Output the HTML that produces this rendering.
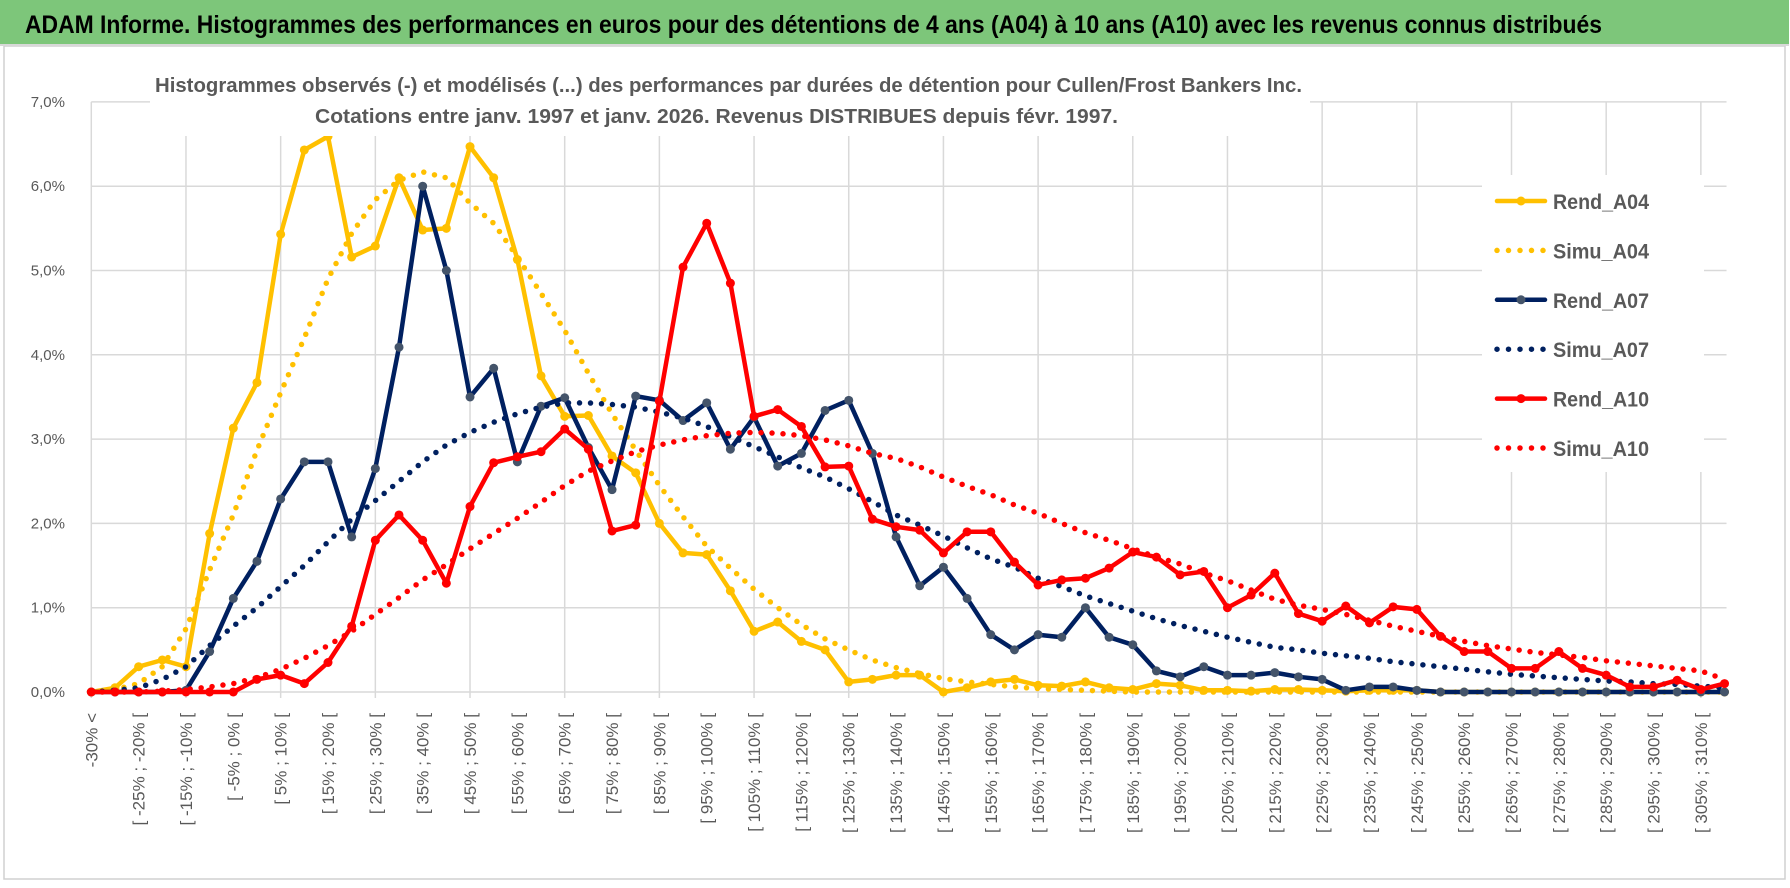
<!DOCTYPE html>
<html><head><meta charset="utf-8"><style>
html,body{margin:0;padding:0;background:#fff;}
svg{display:block;font-family:"Liberation Sans",sans-serif;}
</style></head><body>
<svg id="chart" width="1790" height="888" viewBox="0 0 1790 888" xmlns="http://www.w3.org/2000/svg">
  <rect x="0" y="0" width="1789" height="44" fill="#7DC67A"/>
  <rect x="4" y="46" width="1781" height="833" fill="#fff" stroke="#d0d0d0" stroke-width="1.5"/>
  <line x1="0" y1="45" x2="1789" y2="45" stroke="#d8d8d8" stroke-width="2"/>
  <text x="25" y="33" font-size="25" font-weight="bold" fill="#000" textLength="1577" lengthAdjust="spacingAndGlyphs">ADAM Informe. Histogrammes des performances en euros pour des détentions de 4 ans (A04) à 10 ans (A10) avec les revenus connus distribués</text>
  <g id="grid"></g>
  <g id="series"></g>
  <rect x="150" y="70" width="1160" height="66" fill="#fff"/>
  <text x="155" y="92" font-size="20" font-weight="bold" fill="#595959" textLength="1147" lengthAdjust="spacingAndGlyphs">Histogrammes observés (-) et modélisés (...) des performances par durées de détention pour Cullen/Frost Bankers Inc.</text>
  <text x="315" y="123" font-size="20" font-weight="bold" fill="#595959" textLength="803" lengthAdjust="spacingAndGlyphs">Cotations entre janv. 1997 et janv. 2026. Revenus DISTRIBUES depuis févr. 1997.</text>
  <g id="yaxis"></g>
  <g id="xaxis"></g>
  <g id="legend"></g>
</svg>
<script>
const categories = [];
categories.push("-30% <");
for (let k = 1; k < 70; k++) { const a = -30 + 5 * (k - 1); categories.push("[ " + a + "% ; " + (a + 5) + "% ["); }
const yTicks = [0, 1, 2, 3, 4, 5, 6, 7];
const yTickLabels = ["0,0%", "1,0%", "2,0%", "3,0%", "4,0%", "5,0%", "6,0%", "7,0%"];
const rendA04 = [0,0.05,0.3,0.38,0.3,1.88,3.13,3.67,5.43,6.43,6.59,5.16,5.29,6.1,5.48,5.5,6.47,6.1,5.13,3.75,3.27,3.28,2.8,2.6,2.0,1.65,1.63,1.2,0.72,0.83,0.6,0.5,0.12,0.15,0.2,0.2,0,0.05,0.12,0.15,0.08,0.07,0.12,0.05,0.03,0.1,0.08,0.02,0.02,0.01,0.03,0.03,0.02,0.01,0.02,0.02,0.02,0,0,0,0,0,0,0,0,0,0,0,0,0];
const simuA04 = [0,0.03,0.1,0.3,0.75,1.45,2.1,2.87,3.55,4.2,4.9,5.44,5.84,6.07,6.17,6.1,5.8,5.56,5.16,4.73,4.29,3.78,3.3,2.87,2.45,2.08,1.73,1.47,1.22,1.0,0.8,0.63,0.5,0.38,0.29,0.22,0.16,0.12,0.09,0.06,0.04,0.03,0.02,0.01,0,0,0,0,0,0,0,0,0,0,0,0,0,0,0,0,0,0,0,0,0,0,0,0,0,0];
const rendA07 = [0,0,0,0,0.02,0.48,1.11,1.55,2.29,2.73,2.73,1.84,2.65,4.09,6.0,5.0,3.5,3.84,2.73,3.39,3.49,2.9,2.4,3.51,3.46,3.22,3.43,2.88,3.26,2.68,2.83,3.34,3.46,2.83,1.84,1.26,1.48,1.11,0.68,0.5,0.68,0.65,1.0,0.65,0.56,0.25,0.18,0.3,0.2,0.2,0.23,0.18,0.15,0.02,0.06,0.06,0.02,0,0,0,0,0,0,0,0,0,0,0,0,0];
const simuA07 = [0,0.02,0.05,0.15,0.3,0.55,0.78,1.0,1.25,1.5,1.78,2.05,2.27,2.5,2.73,2.93,3.08,3.2,3.3,3.38,3.43,3.43,3.41,3.38,3.32,3.25,3.15,3.03,2.91,2.79,2.66,2.55,2.41,2.26,2.1,1.98,1.85,1.71,1.58,1.48,1.35,1.25,1.14,1.05,0.96,0.87,0.79,0.72,0.65,0.59,0.53,0.5,0.46,0.43,0.4,0.36,0.33,0.3,0.27,0.24,0.21,0.19,0.17,0.15,0.13,0.12,0.1,0.09,0.07,0.05];
const rendA10 = [0,0,0,0,0,0,0,0.15,0.2,0.1,0.35,0.78,1.8,2.1,1.8,1.29,2.2,2.72,2.79,2.85,3.12,2.88,1.91,1.98,3.45,5.04,5.56,4.85,3.27,3.35,3.15,2.67,2.68,2.05,1.96,1.92,1.65,1.9,1.9,1.54,1.27,1.33,1.35,1.47,1.66,1.6,1.39,1.43,1.0,1.15,1.41,0.93,0.84,1.02,0.82,1.01,0.98,0.66,0.48,0.48,0.28,0.28,0.48,0.28,0.2,0.06,0.06,0.14,0.03,0.1];
const simuA10 = [0,0,0,0.01,0.03,0.06,0.1,0.17,0.27,0.4,0.55,0.72,0.92,1.12,1.33,1.51,1.7,1.88,2.06,2.25,2.45,2.62,2.74,2.85,2.93,2.99,3.04,3.07,3.08,3.07,3.04,2.99,2.92,2.83,2.77,2.67,2.55,2.44,2.34,2.22,2.12,2.0,1.89,1.8,1.7,1.6,1.52,1.41,1.32,1.21,1.1,1.03,0.98,0.92,0.85,0.78,0.72,0.66,0.6,0.55,0.51,0.47,0.44,0.41,0.37,0.34,0.31,0.28,0.25,0.15];
const seriesNames = ["Rend_A04", "Simu_A04", "Rend_A07", "Simu_A07", "Rend_A10", "Simu_A10"];

const NS = "http://www.w3.org/2000/svg";
const X0 = 91.3, DX = 23.67, Y0 = 692, DY = 84.3;
function xScale(i) { return X0 + i * DX; }
function yScale(v) { return Y0 - v * DY; }
function mk(tag, attrs, parent) { const e = document.createElementNS(NS, tag); for (const k in attrs) e.setAttribute(k, attrs[k]); parent.appendChild(e); return e; }

const grid = document.getElementById('grid');
const xEnd = xScale(categories.length - 1) + 2;
yTicks.forEach(function (t) {
  const l = mk('line', {x1: X0, x2: xEnd, y1: yScale(t), y2: yScale(t), stroke: '#d9d9d9', 'stroke-width': 1.5}, grid);
  
  
});
for (let i = 0; i < categories.length; i += 4) {
  const l = mk('line', {x1: xScale(i), x2: xScale(i), y1: yScale(7), y2: Y0 + 6, stroke: '#d9d9d9', 'stroke-width': 1.5}, grid);
  
  
}

const yaxis = document.getElementById('yaxis');
yTicks.forEach(function (t, k) {
  const tx = mk('text', {x: 65, y: yScale(t) + 5, 'font-size': 15, fill: '#595959', 'text-anchor': 'end'}, yaxis);
  tx.textContent = yTickLabels[k];
  
  
});

const xaxis = document.getElementById('xaxis');
for (let i = 0; i < categories.length; i += 2) {
  const x = xScale(i) + 6;
  const tx = mk('text', {x: 0, y: 0, 'font-size': 17, fill: '#595959', 'text-anchor': 'end', transform: 'translate(' + x + ',713) rotate(-90)'}, xaxis);
  tx.textContent = categories[i];
  
  
}

const series = document.getElementById('series');
function pts(arr) { return arr.map(function (v, i) { return xScale(i).toFixed(1) + ',' + yScale(v).toFixed(1); }).join(' '); }
function drawObs(arr, color, mColor, name) {
  const g = mk('g', {}, series);
  
  
  mk('polyline', {points: pts(arr), fill: 'none', stroke: color, 'stroke-width': 4.5, 'stroke-linejoin': 'round'}, g);
  arr.forEach(function (v, i) {
    const c = mk('circle', {cx: xScale(i), cy: yScale(v), r: 4.5, fill: mColor}, g);
    
    
  });
}
function drawSim(arr, color, name) {
  const p = mk('polyline', {points: pts(arr), fill: 'none', stroke: color, 'stroke-width': 5.5, 'stroke-linecap': 'round', 'stroke-dasharray': '0 11'}, series);
  
  
}
drawObs(rendA04, '#FFC000', '#FFC000', 'rend-a04-line');
drawSim(simuA04, '#FFC000', 'simu-a04-line');
drawObs(rendA07, '#002060', '#44546A', 'rend-a07-line');
drawSim(simuA07, '#002060', 'simu-a07-line');
drawObs(rendA10, '#FF0000', '#FF0000', 'rend-a10-line');
drawSim(simuA10, '#FF0000', 'simu-a10-line');

const legend = document.getElementById('legend');
const lbg = mk('rect', {x: 1482, y: 175, width: 222, height: 297, fill: '#fff'}, legend);


const lColors = ['#FFC000', '#FFC000', '#002060', '#002060', '#FF0000', '#FF0000'];
const lMarker = ['#FFC000', null, '#44546A', null, '#FF0000', null];
seriesNames.forEach(function (n, k) {
  const y = 201 + k * 49.4;
  const g = mk('g', {}, legend);
  
  
  if (k % 2 === 0) {
    mk('line', {x1: 1497, x2: 1545, y1: y, y2: y, stroke: lColors[k], 'stroke-width': 4.5, 'stroke-linecap': 'round'}, g);
    mk('circle', {cx: 1521, cy: y, r: 4.5, fill: lMarker[k]}, g);
  } else {
    mk('line', {x1: 1497, x2: 1545, y1: y, y2: y, stroke: lColors[k], 'stroke-width': 5.5, 'stroke-linecap': 'round', 'stroke-dasharray': '0 11.5'}, g);
  }
  const t = mk('text', {x: 1553, y: y + 8, 'font-size': 21, 'font-weight': 'bold', fill: '#595959', textLength: 96, lengthAdjust: 'spacingAndGlyphs'}, g);
  t.textContent = n;
});
</script>
</body></html>
